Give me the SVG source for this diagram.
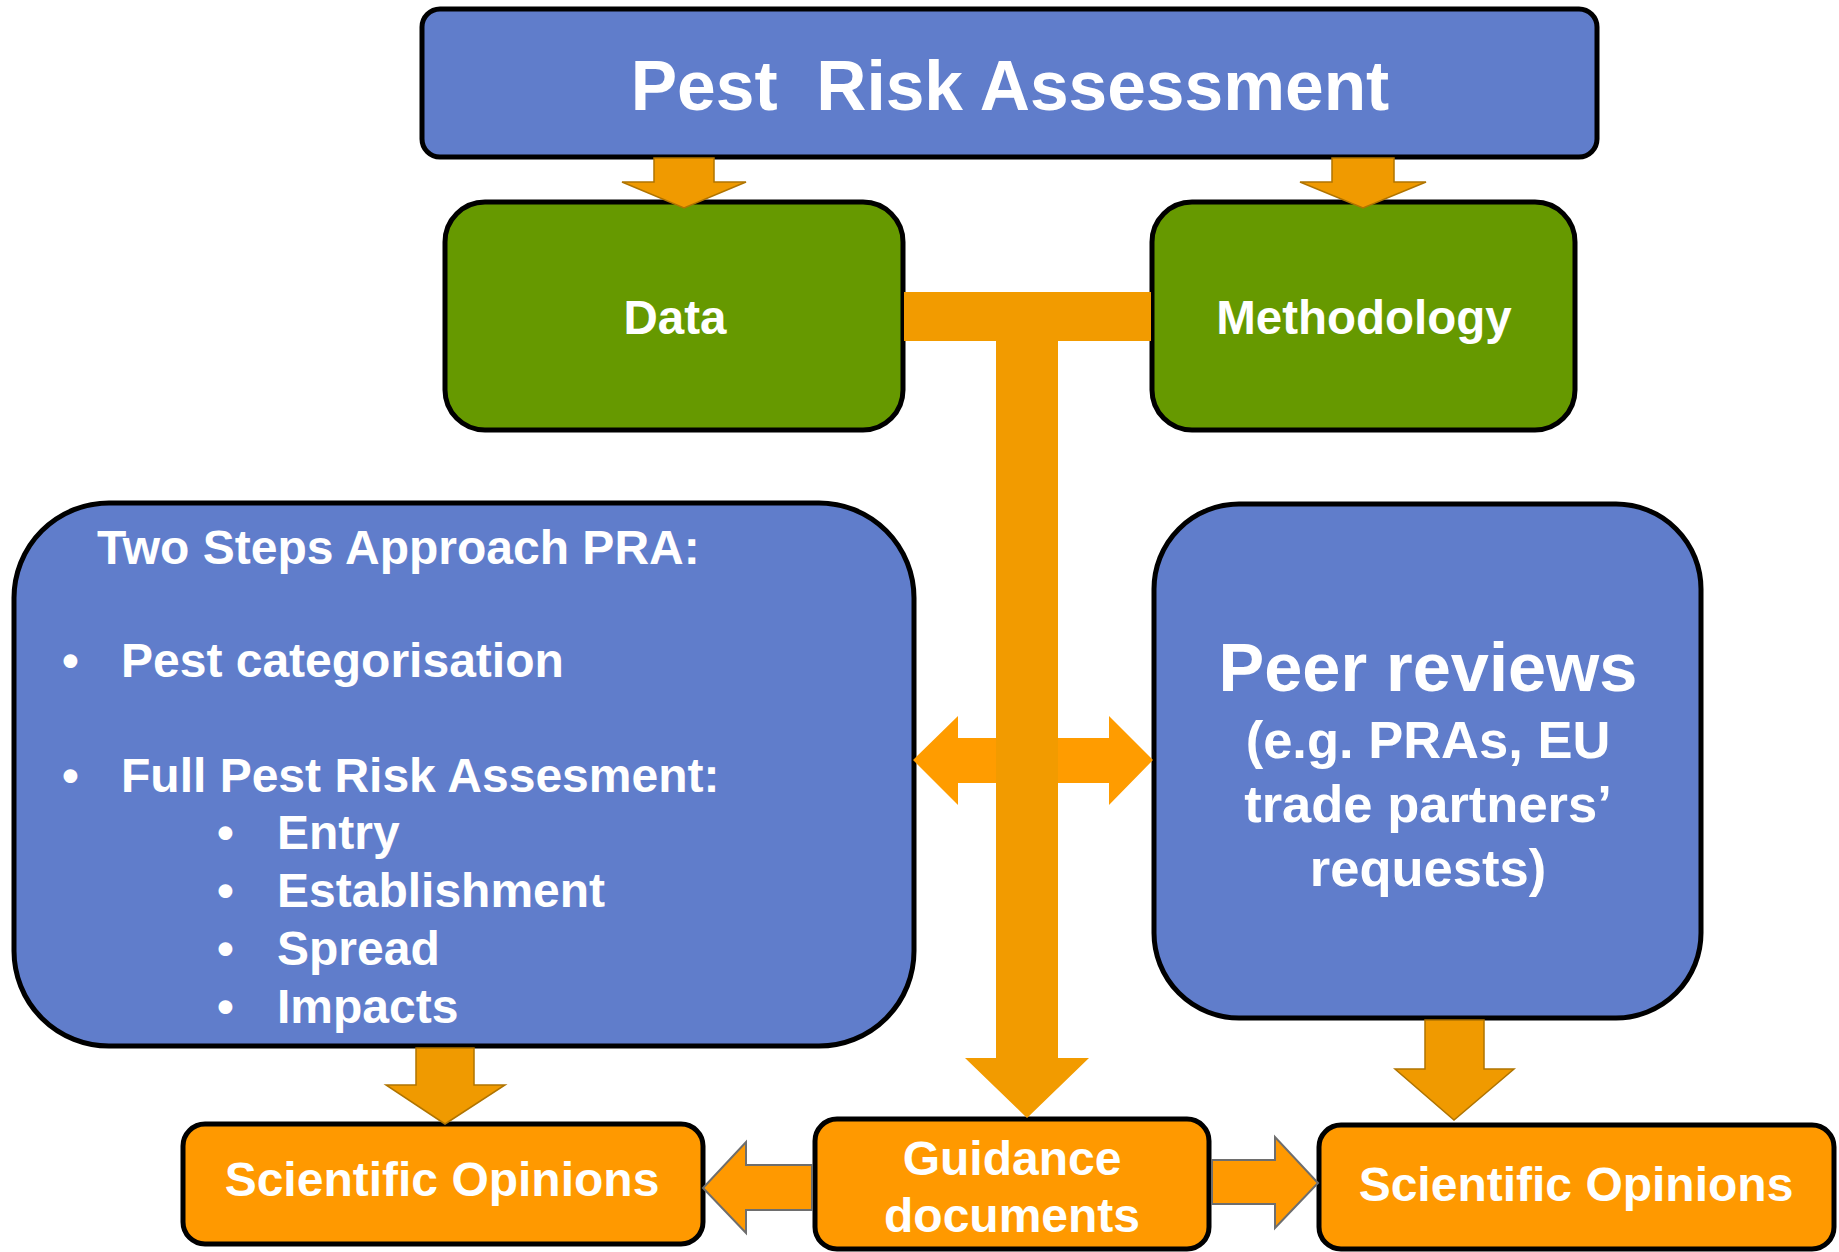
<svg xmlns="http://www.w3.org/2000/svg" width="1839" height="1252" viewBox="0 0 1839 1252">
  <style>
    .box { stroke: #000; stroke-width: 5; }
    .blue { fill: #607DCB; }
    .green { fill: #669900; }
    .orange { fill: #FF9900; }
    .lbl { font-family: "Liberation Sans", Arial, sans-serif; font-weight: bold; fill: #fff; }
    .mid { text-anchor: middle; }
    .arrow { fill: #F09A00; stroke: #B07400; stroke-width: 1.5; }
    .flow { fill: #F29B00; }
    .side { fill: #FF9C00; }
    .grey { fill: #FF9900; stroke: #6E6E6E; stroke-width: 2; }
  </style>

  <!-- nodes -->
  <g id="pra">
    <rect class="box blue" x="422" y="9" width="1175" height="148" rx="18"/>
    <text class="lbl mid" x="1010" y="110" font-size="69.5" xml:space="preserve">Pest  Risk Assessment</text>
  </g>
  <g id="data">
    <rect class="box green" x="445" y="202" width="458" height="228" rx="40"/>
    <text class="lbl mid" x="675" y="334" font-size="47.5">Data</text>
  </g>
  <g id="methodology">
    <rect class="box green" x="1152" y="202" width="423" height="228" rx="40"/>
    <text class="lbl mid" x="1364" y="334" font-size="47.5">Methodology</text>
  </g>
  <g id="two-steps">
    <rect class="box blue" x="14" y="503" width="900" height="543" rx="95"/>
    <text class="lbl" x="97" y="564" font-size="48">Two Steps Approach PRA:</text>
    <text class="lbl" x="62" y="677" font-size="48">•</text>
    <text class="lbl" x="121" y="677" font-size="48">Pest categorisation</text>
    <text class="lbl" x="62" y="792" font-size="48">•</text>
    <text class="lbl" x="121" y="792" font-size="48">Full Pest Risk Assesment:</text>
    <text class="lbl" x="217" y="849" font-size="48">•</text>
    <text class="lbl" x="277" y="849" font-size="48">Entry</text>
    <text class="lbl" x="217" y="907" font-size="48">•</text>
    <text class="lbl" x="277" y="907" font-size="48">Establishment</text>
    <text class="lbl" x="217" y="965" font-size="48">•</text>
    <text class="lbl" x="277" y="965" font-size="48">Spread</text>
    <text class="lbl" x="217" y="1023" font-size="48">•</text>
    <text class="lbl" x="277" y="1023" font-size="48">Impacts</text>
  </g>
  <g id="peer-reviews">
    <rect class="box blue" x="1154" y="504" width="547" height="514" rx="85"/>
    <text class="lbl mid" x="1428" y="691" font-size="68.5">Peer reviews</text>
    <text class="lbl mid" x="1428" y="758" font-size="52.5">(e.g. PRAs, EU</text>
    <text class="lbl mid" x="1428" y="822" font-size="52.5">trade partners’</text>
    <text class="lbl mid" x="1428" y="886" font-size="52.5">requests)</text>
  </g>
  <g id="opinions-left">
    <rect class="box orange" x="183" y="1124" width="520" height="120" rx="22"/>
    <text class="lbl mid" x="442" y="1196" font-size="48">Scientific Opinions</text>
  </g>
  <g id="guidance">
    <rect class="box orange" x="815" y="1119" width="394" height="130" rx="22"/>
    <text class="lbl mid" x="1012" y="1175" font-size="48">Guidance</text>
    <text class="lbl mid" x="1012" y="1232" font-size="48">documents</text>
  </g>
  <g id="opinions-right">
    <rect class="box orange" x="1319" y="1125" width="515" height="124" rx="22"/>
    <text class="lbl mid" x="1576" y="1201" font-size="48">Scientific Opinions</text>
  </g>

  <!-- connectors -->
  <g id="connectors">
    <!-- PRA down to Data and Methodology -->
    <polygon class="arrow" points="654,158 714,158 714,182 746,182 684,208 622,182 654,182"/>
    <polygon class="arrow" points="1332,158 1394,158 1394,182 1426,182 1363,208 1300,182 1332,182"/>
    <!-- two-way link between the blue boxes -->
    <polygon class="side" points="913,760 958,716 958,738 1109,738 1109,716 1153,760 1109,805 1109,783 958,783 958,805"/>
    <!-- T joining Data and Methodology, down to Guidance -->
    <polygon class="flow" points="904,292 1151,292 1151,341 1058,341 1058,1058 1089,1058 1027,1118 965,1058 996,1058 996,341 904,341"/>
    <!-- blue boxes down to Scientific Opinions -->
    <polygon class="arrow" points="416,1048 474,1048 474,1085 505,1085 445,1124 386,1085 416,1085"/>
    <polygon class="arrow" points="1425,1020 1484,1020 1484,1069 1514,1069 1454,1120 1395,1069 1425,1069"/>
    <!-- Guidance out to Scientific Opinions -->
    <polygon class="grey" points="812,1165 746,1165 746,1142 703,1188 746,1233 746,1210 812,1210"/>
    <polygon class="grey" points="1212,1160 1275,1160 1275,1137 1318,1183 1275,1228 1275,1204 1212,1204"/>
  </g>
</svg>
